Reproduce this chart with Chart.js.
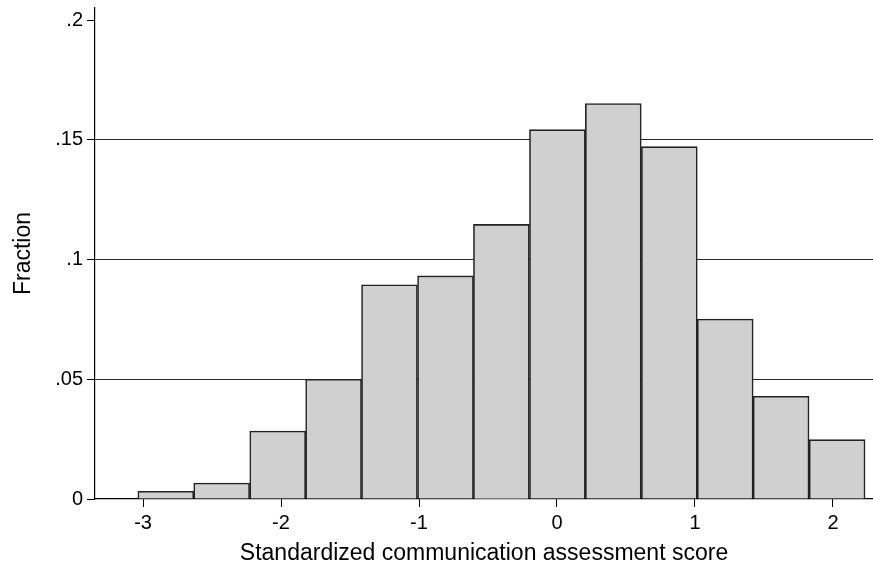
<!DOCTYPE html>
<html>
<head>
<meta charset="utf-8">
<script src="https://cdn.jsdelivr.net/npm/chart.js@4.4.1/dist/chart.umd.min.js"></script>
<style>
html,body{margin:0;padding:0;background:#ffffff;}
#wrap{width:873px;height:567px;}
</style>
</head>
<body>
<div id="wrap"><canvas id="c" width="873" height="567"></canvas></div>
<script>
// Histogram bins: centres of each bin (standardized score) and the fraction in each
const binCenters = [-2.835, -2.430, -2.024, -1.619, -1.214, -0.808, -0.403, 0.003, 0.408, 0.814, 1.219, 1.624, 2.030];
const fractions  = [0.0032, 0.0067, 0.0284, 0.0500, 0.0895, 0.0932, 0.1147, 0.1543, 0.1652, 0.1472, 0.0752, 0.0429, 0.0248];

const xTickValues = [-3, -2, -1, 0, 1, 2];
const xTickLabels = ['-3', '-2', '-1', '0', '1', '2'];
const yTickValues = [0, 0.05, 0.1, 0.15, 0.2];
const yTickLabels = ['0', '.05', '.1', '.15', '.2'];
const yGridValues = [0.05, 0.1, 0.15];

const xTitle = 'Standardized communication assessment score';
const yTitle = 'Fraction';

const FONT = '"Liberation Sans", Arial, Helvetica, sans-serif';

const points = binCenters.map((c, i) => ({ x: c, y: fractions[i] }));

new Chart(document.getElementById('c'), {
  type: 'bar',
  data: {
    datasets: [{
      data: points,
      backgroundColor: '#d0d0d0',
      borderColor: '#222222',
      borderWidth: 1.6,
      borderSkipped: 'start',
      barPercentage: 1.0,
      categoryPercentage: 1.0
    }]
  },
  options: {
    responsive: false,
    devicePixelRatio: 1,
    animation: false,
    layout: { padding: { top: 8, right: 0, left: 0, bottom: 0 } },
    plugins: {
      legend: { display: false },
      tooltip: { enabled: false },
      title: { display: false }
    },
    scales: {
      x: {
        type: 'linear',
        min: -3.348,
        max: 2.29,
        offset: false,
        afterBuildTicks: (scale) => { scale.ticks = xTickValues.map(v => ({ value: v })); },
        afterFit: (scale) => { scale.height = 68; scale.paddingLeft = 0; scale.paddingRight = 0; },
        ticks: {
          autoSkip: false,
          maxRotation: 0,
          padding: 4,
          color: '#000000',
          font: { family: FONT, size: 20 },
          callback: (v) => { const i = xTickValues.indexOf(v); return i >= 0 ? xTickLabels[i] : ''; }
        },
        grid: {
          offset: false,
          drawOnChartArea: false,
          drawTicks: true,
          tickLength: 8,
          tickColor: '#000000',
          color: '#000000'
        },
        border: { display: true, color: '#000000', width: 1.2 },
        title: {
          display: true,
          text: xTitle,
          color: '#000000',
          font: { family: FONT, size: 23 },
          padding: { top: 0, bottom: 0 }
        }
      },
      y: {
        type: 'linear',
        min: 0,
        max: 0.2051,
        afterBuildTicks: (scale) => { scale.ticks = yTickValues.map(v => ({ value: v })); },
        afterFit: (scale) => { scale.width = 95; scale.paddingTop = 0; scale.paddingBottom = 0; },
        ticks: {
          autoSkip: false,
          padding: 4,
          color: '#000000',
          font: { family: FONT, size: 20 },
          callback: (v) => { const i = yTickValues.findIndex(t => Math.abs(t - v) < 1e-9); return i >= 0 ? yTickLabels[i] : ''; }
        },
        grid: {
          drawOnChartArea: true,
          drawTicks: true,
          tickLength: 8,
          tickColor: '#000000',
          lineWidth: 1,
          color: (ctx) => {
            const v = ctx.tick ? ctx.tick.value : null;
            return (v !== null && yGridValues.some(g => Math.abs(g - v) < 1e-9)) ? '#2a2a2a' : 'rgba(0,0,0,0)';
          }
        },
        border: { display: true, color: '#000000', width: 1.2 },
        title: {
          display: true,
          text: yTitle,
          color: '#000000',
          font: { family: FONT, size: 23 },
          padding: { top: 10, bottom: 0 }
        }
      }
    }
  }
});
</script>
</body>
</html>
